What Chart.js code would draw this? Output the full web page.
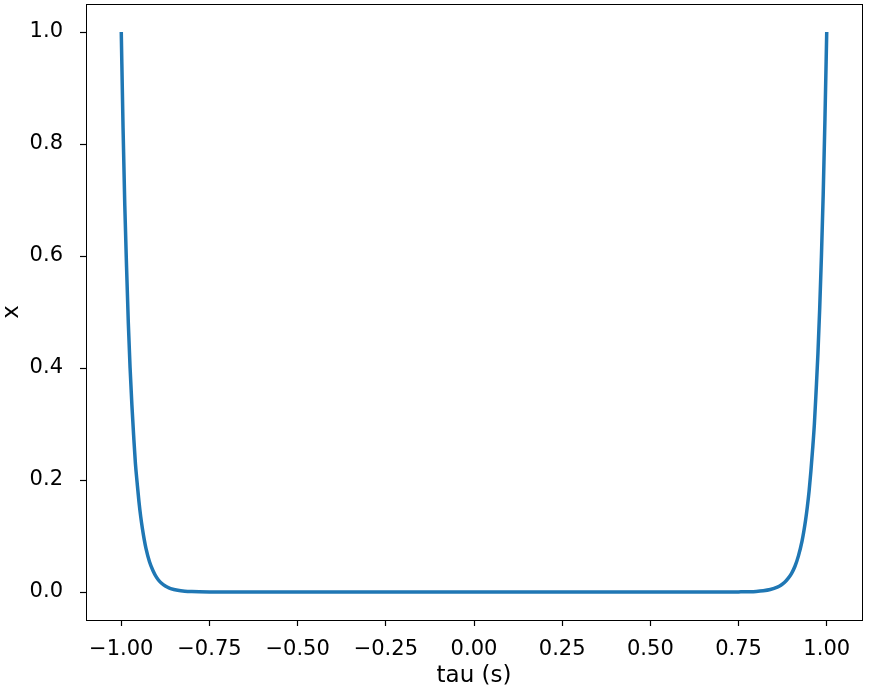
<!DOCTYPE html>
<html>
<head>
<meta charset="utf-8">
<script src="https://cdn.jsdelivr.net/npm/chart.js@4/dist/chart.umd.min.js"></script>
<style>
  html, body { margin: 0; padding: 0; background: #ffffff; }
  #wrap { position: relative; width: 879px; height: 695px; }
</style>
</head>
<body>
<div id="wrap"><canvas id="c"></canvas></div>
<script>
// Values
const tauValues = [
  -1.000, -0.995, -0.990, -0.985, -0.980, -0.975, -0.970, -0.965, -0.960, -0.955,
  -0.950, -0.945, -0.940, -0.935, -0.930, -0.920, -0.910, -0.900, -0.890, -0.880,
  -0.870, -0.860, -0.840, -0.820, -0.800, -0.750, -0.700, -0.500, -0.250, 0.000,
  0.250, 0.500, 0.700, 0.750, 0.800, 0.820, 0.840, 0.860, 0.870, 0.880,
  0.890, 0.900, 0.910, 0.920, 0.930, 0.935, 0.940, 0.945, 0.950, 0.955,
  0.960, 0.965, 0.970, 0.975, 0.980, 0.985, 0.990, 0.995, 1.000
];
const xValues = [
  1.000, 0.830, 0.690, 0.580, 0.480, 0.400, 0.335, 0.280, 0.230, 0.195,
  0.162, 0.135, 0.113, 0.094, 0.078, 0.054, 0.038, 0.026, 0.018, 0.0127,
  0.0088, 0.0061, 0.0030, 0.0014, 0.0007, 0.0001, 0.0, 0.0, 0.0, 0.0,
  0.0, 0.0, 0.0, 0.0002, 0.0011, 0.0022, 0.0044, 0.0086, 0.012, 0.017,
  0.024, 0.033, 0.046, 0.065, 0.091, 0.108, 0.128, 0.152, 0.180, 0.215,
  0.255, 0.300, 0.360, 0.425, 0.505, 0.600, 0.710, 0.845, 1.000
];
const xTicks = [-1.00, -0.75, -0.50, -0.25, 0.00, 0.25, 0.50, 0.75, 1.00];
const yTicks = [0.0, 0.2, 0.4, 0.6, 0.8, 1.0];
const xTitle = 'tau (s)';
const yTitle = 'x';

const points = tauValues.map((t, i) => ({ x: t, y: xValues[i] }));
const fmt = (v, d) => (v < 0 ? '\u2212' : '') + Math.abs(v).toFixed(d);
const FONT = 'DejaVu Sans';

const frame = {
  id: 'frame',
  afterDatasetsDraw(chart) {
    const { ctx, chartArea: a } = chart;
    ctx.save();
    ctx.strokeStyle = '#000';
    ctx.lineWidth = 1;
    ctx.strokeRect(Math.round(a.left) + 0.5, Math.round(a.top) + 0.5,
                   Math.round(a.right - a.left), Math.round(a.bottom - a.top));
    ctx.restore();
  }
};

new Chart(document.getElementById('c'), {
  type: 'line',
  data: {
    datasets: [{
      data: points,
      borderColor: '#1f77b4',
      borderWidth: 3.5,
      pointRadius: 0,
      fill: false,
      cubicInterpolationMode: 'monotone'
    }]
  },
  options: {
    responsive: true,
    maintainAspectRatio: false,
    animation: false,
    layout: { padding: { left: 0, top: 4, right: 17, bottom: 0 } },
    plugins: { legend: { display: false }, tooltip: { enabled: false } },
    scales: {
      x: {
        type: 'linear',
        min: -1.1, max: 1.1,
        afterBuildTicks: s => { s.ticks = xTicks.map(v => ({ value: v })); },
        afterFit: s => { s.height = 75; s.paddingLeft = 0; s.paddingRight = 0; },
        ticks: {
          callback: v => fmt(v, 2),
          color: '#000',
          font: { family: FONT, size: 21 },
          padding: 11,
          maxRotation: 0,
          autoSkip: false
        },
        grid: { display: true, drawOnChartArea: false, drawTicks: true, tickLength: 6, tickColor: '#000', tickWidth: 1.2 },
        border: { display: true, color: '#000', width: 1 },
        title: { display: true, text: xTitle, color: '#000', font: { family: FONT, size: 23 }, padding: { top: 0, bottom: 5 } }
      },
      y: {
        type: 'linear',
        min: -0.05, max: 1.05,
        afterBuildTicks: s => { s.ticks = yTicks.map(v => ({ value: v })); },
        afterFit: s => { s.width = 86; s.paddingTop = 0; s.paddingBottom = 0; },
        ticks: {
          callback: v => fmt(v, 1),
          color: '#000',
          font: { family: FONT, size: 21 },
          padding: 17,
          autoSkip: false
        },
        grid: { display: true, drawOnChartArea: false, drawTicks: true, tickLength: 6, tickColor: '#000', tickWidth: 1.2 },
        border: { display: true, color: '#000', width: 1 },
        title: { display: true, text: yTitle, color: '#000', font: { family: FONT, size: 23 }, padding: { top: -2, bottom: 0 } }
      }
    }
  },
  plugins: [frame]
});
</script>
</body>
</html>
